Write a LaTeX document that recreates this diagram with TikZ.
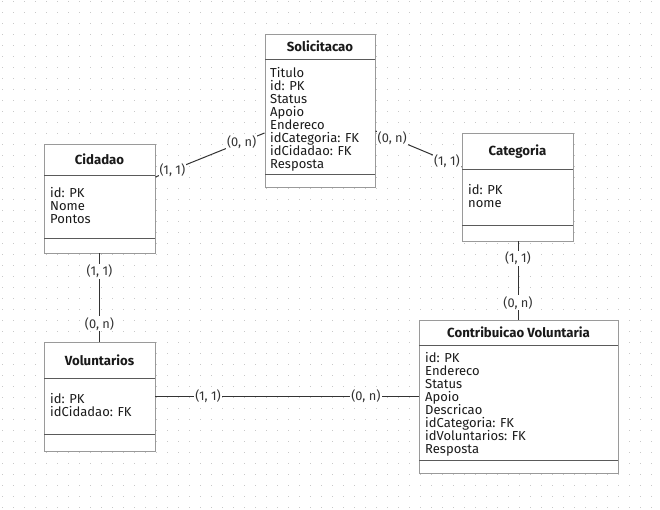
\documentclass[tikz,border=0pt]{standalone}
\usepackage{fontspec}
\setmainfont{Fira Sans}
\usetikzlibrary{calc}
\definecolor{dotc}{HTML}{C8C8C8}
\definecolor{boxc}{HTML}{9A9A9A}
\definecolor{sepc}{HTML}{5A5A5A}
\definecolor{linec}{HTML}{333333}
\definecolor{txtc}{HTML}{1A1A1A}
\tikzset{
  entity/.style={draw=boxc, fill=white, line width=0.9pt, inner sep=0pt},
  sepline/.style={draw=sepc, line width=0.9pt},
  etitle/.style={font=\fontsize{13.2}{15}\selectfont\bfseries, text=txtc, inner sep=0pt},
  attrs/.style={font=\fontsize{13}{13}\selectfont, text=txtc, align=left, inner sep=0pt, anchor=north west},
  rel/.style={draw=linec, line width=1pt},
  card/.style={font=\fontsize{12.8}{14}\selectfont, text=linec, fill=white, inner sep=1pt},
}
\begin{document}
\begin{tikzpicture}[x=1pt,y=-1pt]
\useasboundingbox (0,0) rectangle (660,510);
\fill[white] (0,0) rectangle (660,510);
% dot grid
\foreach \i in {0,...,59}{
  \foreach \j in {0,...,46}{
    \fill[dotc] ({1.5+11*\i},{1+11*\j}) rectangle ++(1,1);
  }
}
% ---- Solicitacao
\node[entity, minimum width=110pt, minimum height=153pt] (sol) at (320,110.5) {};
\draw[sepline] (265,59) -- (375,59);
\draw[sepline] (265,174.5) -- (375,174.5);
\node[etitle] (solt) at (320,46.5) {Solicitacao};
\node[attrs] (sola) at (270,67) {Titulo\\id: PK\\Status\\Apoio\\Endereco\\idCategoria: FK\\idCidadao: FK\\Resposta};
% ---- Cidadao
\node[entity, minimum width=111pt, minimum height=109pt] (cid) at (99.5,198.5) {};
\draw[sepline] (44,175) -- (155,175);
\draw[sepline] (44,238.5) -- (155,238.5);
\node[etitle] (cidt) at (99.5,159.5) {Cidadao};
\node[attrs] (cida) at (50,187) {id: PK\\Nome\\Pontos};
% ---- Categoria
\node[entity, minimum width=111pt, minimum height=108pt] (cat) at (517.5,187) {};
\draw[sepline] (462,169) -- (573,169);
\draw[sepline] (462,225.5) -- (573,225.5);
\node[etitle] (catt) at (517.5,151.5) {Categoria};
\node[attrs] (cata) at (468,184) {id: PK\\nome};
% ---- Voluntarios
\node[entity, minimum width=111pt, minimum height=109pt] (vol) at (99.5,396.5) {};
\draw[sepline] (44,378) -- (155,378);
\draw[sepline] (44,434) -- (155,434);
\node[etitle] (volt) at (99.5,360) {Voluntarios};
\node[attrs] (vola) at (50,393) {id: PK\\idCidadao: FK};
% ---- Contribuicao Voluntaria
\node[entity, minimum width=199pt, minimum height=153pt] (con) at (518.5,396.5) {};
\draw[sepline] (419,345) -- (618,345);
\draw[sepline] (419,460.5) -- (618,460.5);
\node[etitle] (cont) at (518.5,332.5) {Contribuicao Voluntaria};
\node[attrs] (cona) at (425,352) {id: PK\\Endereco\\Status\\Apoio\\Descricao\\idCategoria: FK\\idVoluntarios: FK\\Resposta};
% ---- relationships
\draw[rel] ([yshift=21.5pt]cid.east) -- node[card, pos=0.155] (c1a) {(1, 1)} node[card, pos=0.79] (c1b) {(0, n)} ([yshift=-22.5pt]sol.west);
\draw[rel] ([yshift=-20.5pt]sol.east) -- node[card, pos=0.195] (c2a) {(0, n)} node[card, pos=0.83] (c2b) {(1, 1)} ([yshift=20pt]cat.west);
\draw[rel] (cid.south) -- node[card, pos=0.2] (c3a) {(1, 1)} node[card, pos=0.8] (c3b) {(0, n)} (vol.north);
\draw[rel] ([xshift=0.5pt]cat.south) -- node[card, pos=0.215] (c4a) {(1, 1)} node[card, pos=0.785] (c4b) {(0, n)} ([xshift=0.5pt]cat.south |- con.north);
\draw[rel] (vol.east) -- node[card, pos=0.2] (c5a) {(1, 1)} node[card, pos=0.8] (c5b) {(0, n)} (con.west);
\end{tikzpicture}
\end{document}
